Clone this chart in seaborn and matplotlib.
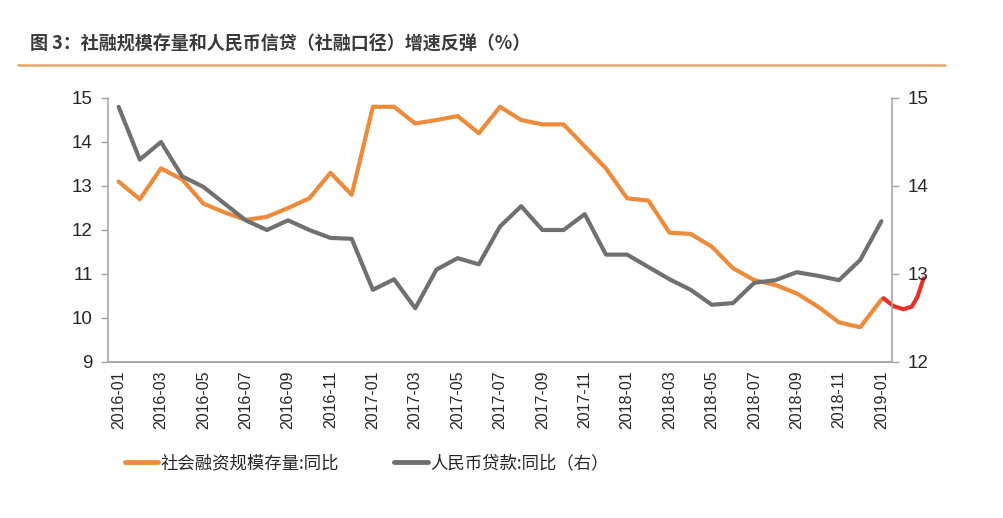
import numpy as np
import pandas as pd
import matplotlib
matplotlib.use("Agg")
import matplotlib.pyplot as plt
from matplotlib.lines import Line2D
import seaborn as sns

months = [d.strftime("%Y-%m") for d in pd.date_range("2016-01-01", "2019-01-01", freq="MS")]

tsf_yoy = [13.10, 12.70, 13.40, 13.15, 12.60, 12.40, 12.23, 12.30, 12.50, 12.72,
           13.30, 12.80, 14.80, 14.80, 14.42, 14.50, 14.59, 14.20, 14.80, 14.50,
           14.40, 14.40, 13.90, 13.40, 12.72, 12.67, 11.94, 11.91, 11.62, 11.13,
           10.86, 10.75, 10.56, 10.26, 9.90, 9.79, 10.42]

loan_yoy = [14.90, 14.30, 14.50, 14.11, 13.99, 13.80, 13.61, 13.50, 13.61, 13.50,
            13.41, 13.40, 12.82, 12.94, 12.61, 13.05, 13.18, 13.11, 13.54, 13.77,
            13.50, 13.50, 13.68, 13.22, 13.22, 13.08, 12.94, 12.82, 12.65, 12.67,
            12.90, 12.93, 13.02, 12.98, 12.93, 13.16, 13.60]

# hand-drawn red mark near the end (x in month index, y on left axis)
mark_x = [36.1, 36.57, 37.04, 37.44, 37.7, 37.99]
mark_y = [10.45, 10.27, 10.20, 10.26, 10.48, 10.90]

series_names = ["社会融资规模存量:同比", "人民币贷款:同比（右）"]
title = "图 3：社融规模存量和人民币信贷（社融口径）增速反弹（%）"

df = pd.DataFrame({"idx": np.arange(len(months)), "month": months,
                   "tsf": tsf_yoy, "loan": loan_yoy})

sns.set_style("white")
plt.rcParams["font.family"] = ["Noto Sans CJK SC", "DejaVu Sans"]

ORANGE = "#ED8B3A"
GRAY = "#707070"
TXT = "#262626"

fig = plt.figure(figsize=(10.04, 5.18), dpi=100)
ax = fig.add_axes([108/1004, 1-362/518, (892-108)/1004, (362-98)/518])
ax2 = ax.twinx()

sns.lineplot(data=df, x="idx", y="tsf", ax=ax, color=ORANGE, lw=3.0, label=None)
sns.lineplot(data=df, x="idx", y="loan", ax=ax2, color=GRAY, lw=3.0, label=None)
ax.plot(mark_x, mark_y, color="#E8302A", lw=3, clip_on=False, zorder=5,
        solid_capstyle="round")

ax.set_xlim(-0.5, len(months) - 0.5)
ax.set_ylim(9, 15)
ax2.set_ylim(12, 15)
ax.set_yticks(range(9, 16))
ax2.set_yticks(range(12, 16))
ax.set_xlabel("")
ax.set_ylabel("")
ax2.set_ylabel("")

ax.set_xticks(np.arange(0, len(months), 2))
ax.set_xticklabels(months[::2], rotation=90, fontsize=11.5, color=TXT,
                   family=["Liberation Sans", "DejaVu Sans"])
ax.set_xticks(np.arange(-0.5, len(months), 2), minor=True)
ax.tick_params(axis="x", which="major", length=0, pad=6)
ax.tick_params(axis="x", which="minor", length=5, width=1, color="#a0a0a0", direction="out")

for a in (ax, ax2):
    a.tick_params(axis="y", length=5, width=1, color="#a0a0a0", labelsize=13.5,
                  labelcolor=TXT, direction="out", pad=6)
    for s in a.spines.values():
        s.set_color("#a8a8a8")
        s.set_linewidth(1.2)
    a.spines["top"].set_visible(False)
    a.grid(False)
ax.tick_params(axis="y", left=True, right=False)
ax2.tick_params(axis="y", right=True, left=False)
ax2.spines["left"].set_visible(False)
ax.spines["right"].set_visible(False)
for lab in ax.get_yticklabels() + ax2.get_yticklabels():
    lab.set_family(["Liberation Sans", "DejaVu Sans"])

fig.text(30/1004, 1-44/518, title, fontsize=13, fontweight="bold", color="#3a3a3a",
         va="center", ha="left")
fig.add_artist(Line2D([18/1004, 945/1004], [1-65/518, 1-65/518], color="#E4A663",
                      lw=1.8, transform=fig.transFigure))

handles = [Line2D([], [], color=ORANGE, lw=3.5), Line2D([], [], color=GRAY, lw=3.5)]
fig.legend(handles, series_names, loc="center left", bbox_to_anchor=(109/1004, 1-463/518),
           ncol=2, frameon=False, fontsize=12.5, handlelength=1.95, handletextpad=0.1,
           columnspacing=3.2, labelcolor=TXT)

fig.savefig("out.png", dpi=100, facecolor="white")
